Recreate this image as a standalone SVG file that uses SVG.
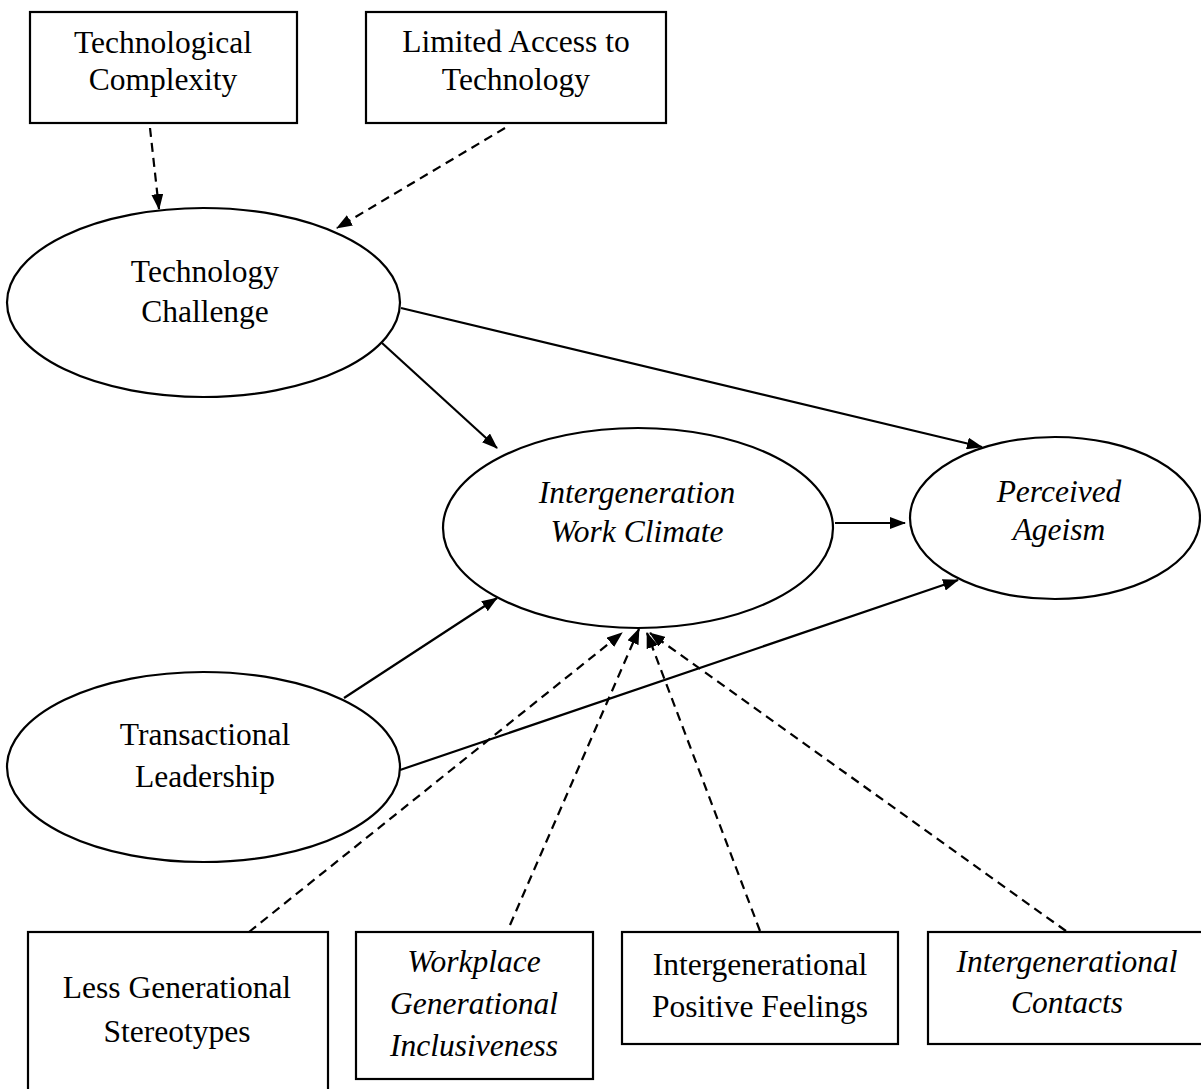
<svg xmlns="http://www.w3.org/2000/svg" width="1201" height="1089" viewBox="0 0 1201 1089">
<style>
.box{fill:#fff;stroke:#000;stroke-width:2.2}
.ell{fill:#fff;stroke:#000;stroke-width:2.2}
.t{font-family:"Liberation Serif","Times New Roman",serif;font-size:31.5px;fill:#000;text-anchor:middle}
.i{font-style:italic}
.solid{stroke:#000;stroke-width:2.2;fill:none;marker-end:url(#ah)}
.dash{stroke:#000;stroke-width:2.2;fill:none;stroke-dasharray:9 6;marker-end:url(#ah)}
</style>
<defs>
<marker id="ah" markerUnits="userSpaceOnUse" viewBox="0 0 16 12" refX="15" refY="6" markerWidth="16" markerHeight="12" orient="auto">
<path d="M0,0 L16,6 L0,12 Z" fill="#000"/>
</marker>
</defs>
<rect width="1201" height="1089" fill="#fff"/>
<g id="connectors">
<line class="dash" x1="150" y1="128" x2="159" y2="209"/>
<line class="dash" x1="505" y1="128" x2="337" y2="228"/>
<line class="solid" x1="401" y1="308" x2="982" y2="447"/>
<line class="solid" x1="382" y1="343" x2="497" y2="448"/>
<line class="solid" x1="835" y1="523" x2="905" y2="523"/>
<line class="solid" x1="344" y1="698" x2="497" y2="598"/>
<line class="solid" x1="400" y1="770" x2="958" y2="580"/>
<line class="dash" x1="249" y1="932" x2="622" y2="633"/>
<line class="dash" x1="510" y1="925" x2="639" y2="629"/>
<line class="dash" x1="760" y1="931" x2="647" y2="633"/>
<line class="dash" x1="1066" y1="931" x2="650" y2="633"/>
</g>
<g id="technological-complexity">
<rect class="box" x="30" y="12" width="267" height="111"/>
<text class="t" x="163" y="53">Technological</text>
<text class="t" x="163" y="90">Complexity</text>
</g>
<g id="limited-access">
<rect class="box" x="366" y="12" width="300" height="111"/>
<text class="t" x="516" y="52">Limited Access to</text>
<text class="t" x="516" y="90">Technology</text>
</g>
<g id="technology-challenge">
<ellipse class="ell" cx="203.5" cy="302.5" rx="196.5" ry="94.5"/>
<text class="t" x="205" y="282">Technology</text>
<text class="t" x="205" y="322">Challenge</text>
</g>
<g id="intergeneration-work-climate">
<ellipse class="ell" cx="638" cy="528" rx="195" ry="100"/>
<text class="t i" x="637" y="503">Intergeneration</text>
<text class="t i" x="637" y="542">Work Climate</text>
</g>
<g id="perceived-ageism">
<ellipse class="ell" cx="1055" cy="518" rx="145" ry="81"/>
<text class="t i" x="1059" y="502">Perceived</text>
<text class="t i" x="1059" y="540">Ageism</text>
</g>
<g id="transactional-leadership">
<ellipse class="ell" cx="203.5" cy="767" rx="196.5" ry="95"/>
<text class="t" x="205" y="745">Transactional</text>
<text class="t" x="205" y="787">Leadership</text>
</g>
<g id="less-generational-stereotypes">
<rect class="box" x="28" y="932" width="300" height="170"/>
<text class="t" x="177" y="998">Less Generational</text>
<text class="t" x="177" y="1042">Stereotypes</text>
</g>
<g id="workplace-generational-inclusiveness">
<rect class="box" x="356" y="932" width="237" height="147"/>
<text class="t i" x="474" y="972">Workplace</text>
<text class="t i" x="474" y="1014">Generational</text>
<text class="t i" x="474" y="1056">Inclusiveness</text>
</g>
<g id="intergenerational-positive-feelings">
<rect class="box" x="622" y="932" width="276" height="112"/>
<text class="t" x="760" y="975">Intergenerational</text>
<text class="t" x="760" y="1017">Positive Feelings</text>
</g>
<g id="intergenerational-contacts">
<rect class="box" x="928" y="932" width="278" height="112"/>
<text class="t i" x="1067" y="972">Intergenerational</text>
<text class="t i" x="1067" y="1013">Contacts</text>
</g>
</svg>
